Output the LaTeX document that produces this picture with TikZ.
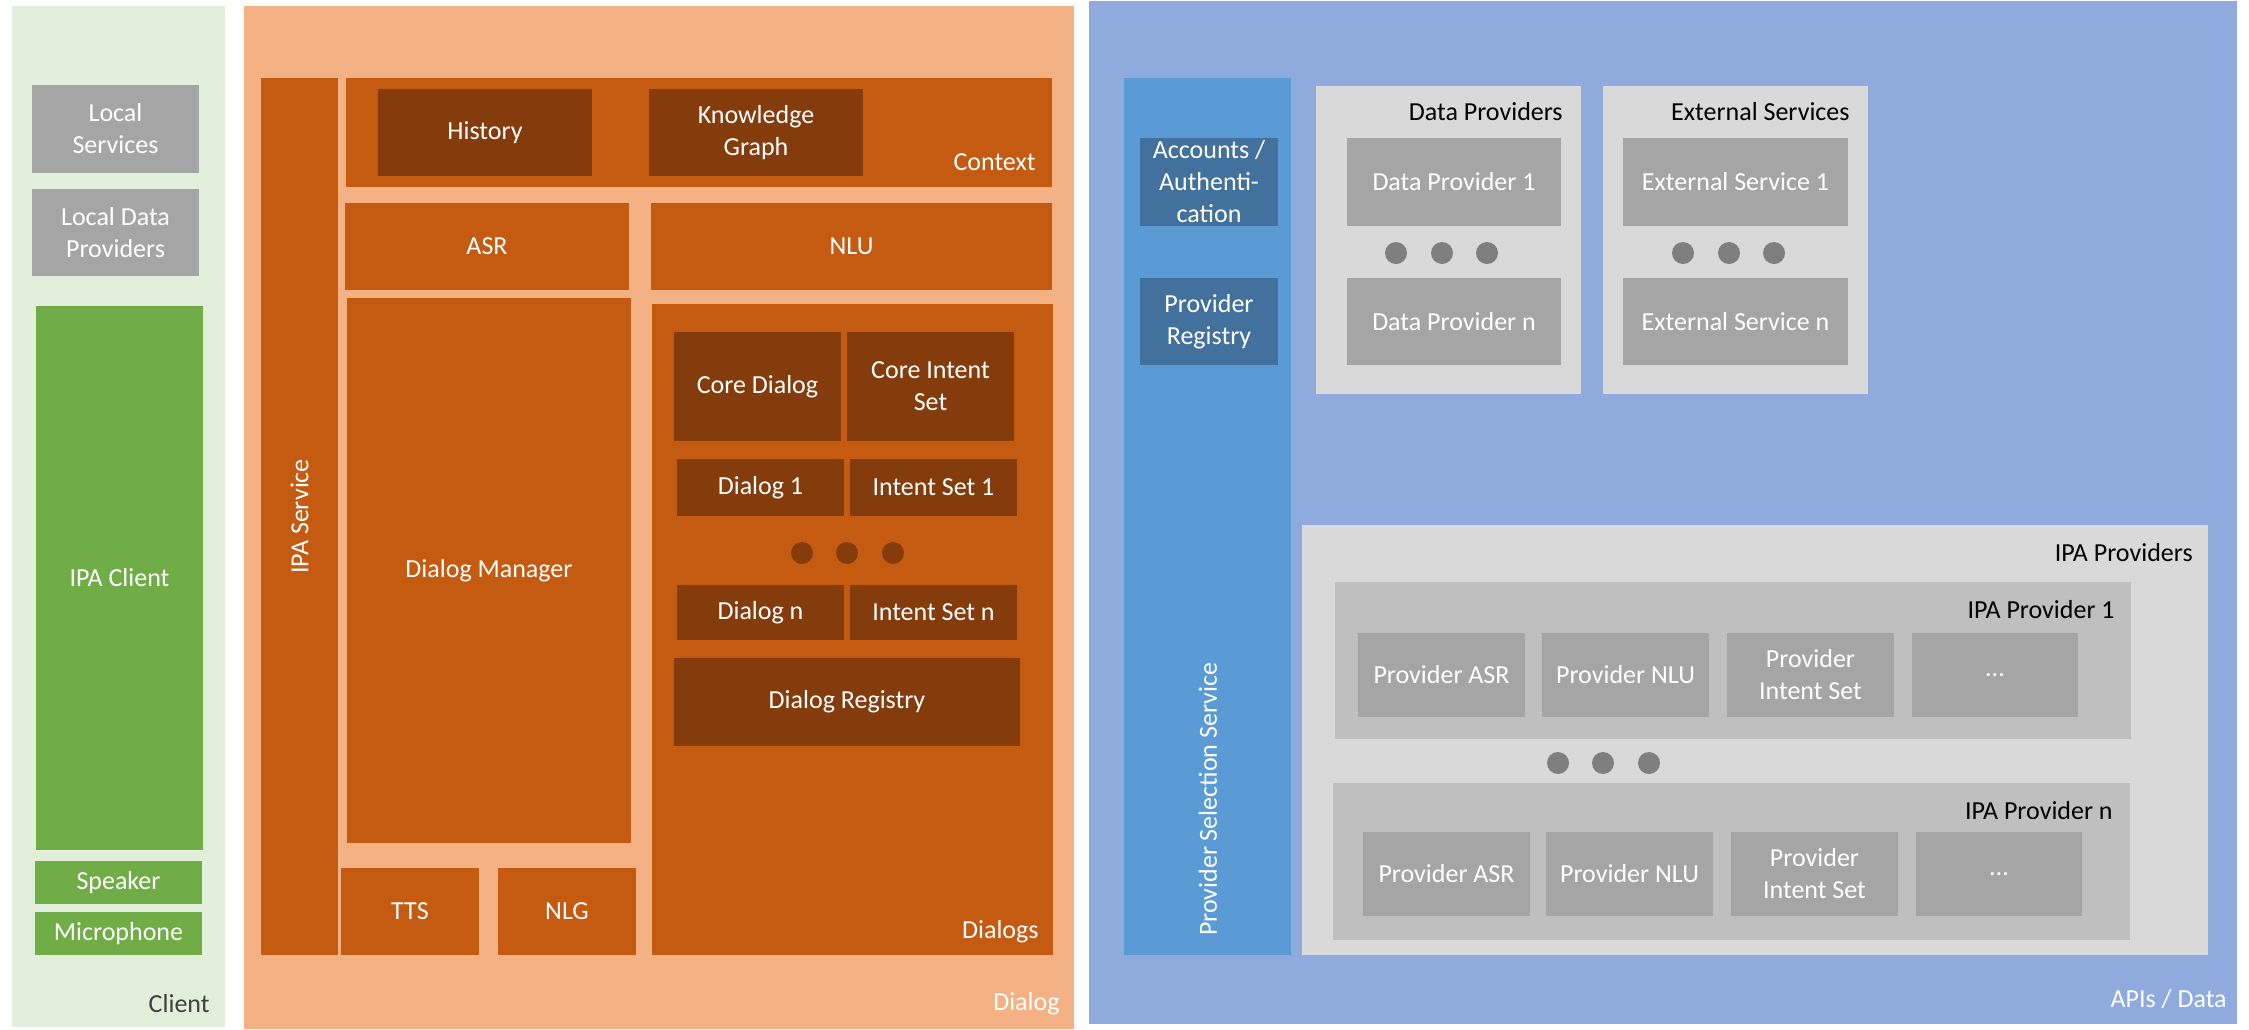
\documentclass[tikz,border=0pt]{standalone}
\usepackage{fontspec}
\setmainfont{Carlito}
\definecolor{clientbg}{HTML}{E2EFDA}
\definecolor{boxgrey}{HTML}{A5A5A5}
\definecolor{clientgreen}{HTML}{70AD47}
\definecolor{dialogbg}{HTML}{F4B183}
\definecolor{dlgorange}{HTML}{C55A11}
\definecolor{dlgbrown}{HTML}{843C0C}
\definecolor{apibg}{HTML}{8FAADC}
\definecolor{selblue}{HTML}{5B9BD5}
\definecolor{regblue}{HTML}{41719C}
\definecolor{contgrey}{HTML}{D9D9D9}
\definecolor{provgrey}{HTML}{BFBFBF}
\definecolor{dotgrey}{HTML}{7F7F7F}
\newcommand{\lblfont}{\fontsize{13}{16}\selectfont}
% block from corner (x1,y1) to corner (x2,y2), in pixels
\newcommand{\blockat}[7]{\node[#1, minimum width={(#5-#3)*0.5pt}, minimum height={(#6-#4)*0.5pt}] (#2) at ({(#3+#5)/2},{(#4+#6)/2}) {#7};}

\begin{document}
\begin{tikzpicture}[x=0.5pt, y=-0.5pt,
  box/.style={inner sep=0pt, outer sep=0pt, align=center, text=white, font=\lblfont},
  tag/.style={anchor=east, inner sep=0pt, font=\lblfont},
  greybox/.style={box, fill=boxgrey},
  greenbox/.style={box, fill=clientgreen},
  orangebox/.style={box, fill=dlgorange},
  brownbox/.style={box, fill=dlgbrown},
  bluebox/.style={box, fill=regblue},
  container/.style={box, fill=contgrey},
  provbox/.style={box, fill=provgrey}]
\useasboundingbox[fill=white] (0,0) rectangle (2249,1029);

% Panel: Client
\blockat{box, fill=clientbg}{client}{12}{6}{225}{1027}{}
\blockat{greybox}{locsrv}{32}{85}{199}{173}{Local\\Services}
\blockat{greybox}{locdata}{32}{189}{199}{276}{Local Data\\Providers}
\blockat{greenbox}{ipaclient}{36}{306}{203}{850}{IPA Client}
\blockat{greenbox}{speaker}{35}{861}{202}{904}{Speaker}
\blockat{greenbox}{mic}{35}{912}{202}{955}{Microphone}
\node[tag, text=black!75] (clientlbl) at (210,1004) {Client};

% Panel: Dialog
\blockat{box, fill=dialogbg}{dialog}{244}{6}{1074}{1029}{}
\blockat{orangebox}{ipasrv}{261}{78}{338}{955}{}
\node[rotate=90, text=white, font=\lblfont] (ipasrvlbl) at (ipasrv.center) {IPA Service};

% Context
\blockat{orangebox}{context}{346}{78}{1052}{187}{}
\node[tag, text=white] (contextlbl) at (1036,162) {Context};
\blockat{brownbox}{history}{378}{89}{592}{176}{History}
\blockat{brownbox}{kgraph}{649}{89}{863}{176}{Knowledge\\Graph}

% Speech and language units
\blockat{orangebox}{asr}{345}{203}{629}{290}{ASR}
\blockat{orangebox}{nlu}{651}{203}{1052}{290}{NLU}
\blockat{orangebox}{dlgmgr}{347}{298}{631}{843}{Dialog Manager}
\blockat{orangebox}{tts}{341}{868}{479}{955}{TTS}
\blockat{orangebox}{nlg}{498}{868}{636}{955}{NLG}

% Dialogs
\blockat{orangebox}{dialogs}{652}{304}{1053}{955}{}
\node[tag, text=white] (dialogslbl) at (1039,932) {Dialogs};
\blockat{brownbox}{coredlg}{674}{332}{841}{441}{Core Dialog}
\blockat{brownbox}{coreint}{847}{332}{1014}{441}{Core Intent\\Set}
\blockat{brownbox}{dlgone}{677}{459}{844}{516}{Dialog 1}
\blockat{brownbox}{intone}{850}{459}{1017}{516}{Intent Set 1}
\fill[dlgbrown] (802,553) circle (5.5pt);
\fill[dlgbrown] (847,553) circle (5.5pt);
\fill[dlgbrown] (893,553) circle (5.5pt);
\blockat{brownbox}{dlgn}{677}{585}{844}{640}{Dialog n}
\blockat{brownbox}{intn}{850}{585}{1017}{640}{Intent Set n}
\blockat{brownbox}{dlgreg}{674}{658}{1020}{746}{Dialog Registry}
\node[tag, text=white] (dialoglbl) at (1060,1004) {Dialog};

% Panel: APIs / Data
\blockat{box, fill=apibg}{apis}{1089}{1}{2237}{1024}{}
\blockat{box, fill=selblue}{provsel}{1124}{78}{1291}{955}{}
\node[rotate=90, anchor=west, text=white, font=\lblfont] (provsellbl) at (1208,943) {Provider Selection Service};
\blockat{bluebox}{accounts}{1140}{138}{1278}{226}{Accounts /\\Authenti-\\cation}
\blockat{bluebox}{provreg}{1140}{278}{1278}{365}{Provider\\Registry}

% Data providers
\blockat{container}{dataprov}{1316}{86}{1581}{394}{}
\node[tag, text=black] (dataprovlbl) at (1563,112) {Data Providers};
\blockat{greybox}{dpone}{1347}{138}{1561}{226}{Data Provider 1}
\fill[dotgrey] (1396,253) circle (5.5pt);
\fill[dotgrey] (1442,253) circle (5.5pt);
\fill[dotgrey] (1487,253) circle (5.5pt);
\blockat{greybox}{dpn}{1347}{278}{1561}{365}{Data Provider n}

% External services
\blockat{container}{extsrv}{1603}{86}{1868}{394}{}
\node[tag, text=black] (extsrvlbl) at (1850,112) {External Services};
\blockat{greybox}{esone}{1623}{138}{1848}{226}{External Service 1}
\fill[dotgrey] (1683,253) circle (5.5pt);
\fill[dotgrey] (1729,253) circle (5.5pt);
\fill[dotgrey] (1774,253) circle (5.5pt);
\blockat{greybox}{esn}{1623}{278}{1848}{365}{External Service n}

% IPA providers
\blockat{container}{ipaprov}{1302}{525}{2208}{955}{}
\node[tag, text=black] (ipaprovlbl) at (2193,553) {IPA Providers};

\blockat{provbox}{ipapone}{1335}{582}{2131}{739}{}
\node[tag, text=black] (ipaponelbl) at (2115,610) {IPA Provider 1};
\blockat{greybox}{pasrone}{1358}{633}{1525}{717}{Provider ASR}
\blockat{greybox}{pnluone}{1542}{633}{1709}{717}{Provider NLU}
\blockat{greybox}{pintone}{1727}{633}{1894}{717}{Provider\\Intent Set}
\blockat{greybox}{pmoreone}{1912}{633}{2078}{717}{...}

\fill[dotgrey] (1558,763) circle (5.5pt);
\fill[dotgrey] (1603,763) circle (5.5pt);
\fill[dotgrey] (1649,763) circle (5.5pt);

\blockat{provbox}{ipapn}{1333}{783}{2130}{940}{}
\node[tag, text=black] (ipapnlbl) at (2113,811) {IPA Provider n};
\blockat{greybox}{pasrn}{1363}{832}{1530}{916}{Provider ASR}
\blockat{greybox}{pnlun}{1546}{832}{1713}{916}{Provider NLU}
\blockat{greybox}{pintn}{1731}{832}{1898}{916}{Provider\\Intent Set}
\blockat{greybox}{pmoren}{1916}{832}{2082}{916}{...}

\node[tag, text=white] (apislbl) at (2227,999) {APIs / Data};
\end{tikzpicture}
\end{document}
